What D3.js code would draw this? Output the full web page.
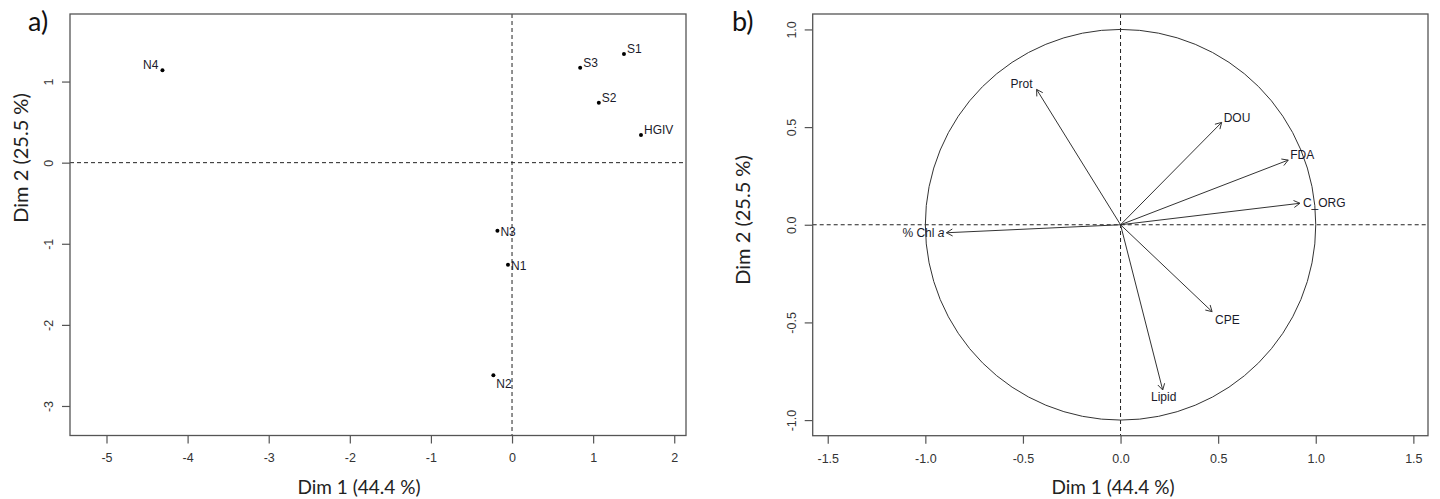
<!DOCTYPE html>
<html><head><meta charset="utf-8">
<script src="https://cdn.jsdelivr.net/npm/d3@7"></script>
<style>
html,body{margin:0;padding:0;background:#fff;}
svg{display:block;}
</style>
</head><body>
<svg id="chart" width="1440" height="499"></svg>
<script>
// ---- Data ----
const indNames = ["N4", "S1", "S3", "S2", "HGIV", "N3", "N1", "N2"];
const indDim1 = [-4.31, 1.38, 0.84, 1.07, 1.59, -0.18, -0.05, -0.23];
const indDim2 = [1.14, 1.34, 1.17, 0.74, 0.34, -0.84, -1.26, -2.62];
const indLabelSide = ["nw", "ne", "ne", "ne", "ne", "e", "e", "se"];

const varNames = ["Prot", "DOU", "FDA", "C_ORG", "% Chl a", "CPE", "Lipid"];
const varDim1 = [-0.43, 0.518, 0.859, 0.919, -0.892, 0.469, 0.216];
const varDim2 = [0.693, 0.524, 0.331, 0.11, -0.041, -0.445, -0.846];
const varLabelSide = ["nw", "ne", "ne", "e", "w", "se", "s"];

const aTicksX = [-5, -4, -3, -2, -1, 0, 1, 2];
const aTicksY = [-3, -2, -1, 0, 1];
const bTicksX = [-1.5, -1.0, -0.5, 0.0, 0.5, 1.0, 1.5];
const bTicksY = [-1.0, -0.5, 0.0, 0.5, 1.0];

const xTitle = "Dim 1 (44.4 %)";
const yTitle = "Dim 2 (25.5 %)";

// ---- Drawing ----
const svg = d3.select("#chart");
const boxColor = "#555";
const titleFont = "Lato, 'Open Sans', sans-serif";
const tickFont = "'Liberation Sans', Arial, sans-serif";
const loc = d3.formatLocale({decimal: ".", thousands: ",", grouping: [3], currency: ["", ""], minus: "-"});

function panel(cfg) {
  const g = svg.append("g");
  const x = d3.scaleLinear().domain(cfg.xDomain).range([cfg.left, cfg.right]);
  const y = d3.scaleLinear().domain(cfg.yDomain).range([cfg.bottom, cfg.top]);

  const xAxis = d3.axisBottom(x).tickValues(cfg.xTicks).tickSize(8).tickPadding(10)
    .tickFormat(cfg.fmt);
  const gx = g.append("g").attr("transform", `translate(0,${cfg.bottom})`).call(xAxis);
  gx.select(".domain").remove();
  gx.selectAll(".tick line").attr("stroke", boxColor).attr("stroke-width", 1.2);
  gx.selectAll(".tick text").attr("font-size", 12.5).attr("fill", "#333")
    .attr("font-family", tickFont).attr("dy", "0.71em");

  const yAxis = d3.axisLeft(y).tickValues(cfg.yTicks).tickSize(8).tickPadding(0)
    .tickFormat(cfg.fmt);
  const gy = g.append("g").attr("transform", `translate(${cfg.left},0)`).call(yAxis);
  gy.select(".domain").remove();
  gy.selectAll(".tick line").attr("stroke", boxColor).attr("stroke-width", 1.2);
  gy.selectAll(".tick text").attr("font-size", 12.5).attr("fill", "#333")
    .attr("font-family", tickFont)
    .attr("x", null).attr("dy", null)
    .attr("text-anchor", "middle")
    .attr("transform", `translate(${cfg.yTickX - cfg.left},0) rotate(-90)`)
    .attr("y", 0).attr("dy", "0.35em");

  g.append("line").attr("x1", cfg.left).attr("x2", cfg.right)
    .attr("y1", y(0)).attr("y2", y(0))
    .attr("stroke", "#222").attr("stroke-width", 1).attr("stroke-dasharray", "4,3");
  g.append("line").attr("x1", x(0)).attr("x2", x(0))
    .attr("y1", cfg.top).attr("y2", cfg.bottom)
    .attr("stroke", "#222").attr("stroke-width", 1).attr("stroke-dasharray", "4,3");

  g.append("rect").attr("x", cfg.left).attr("y", cfg.top)
    .attr("width", cfg.right - cfg.left).attr("height", cfg.bottom - cfg.top)
    .attr("fill", "none").attr("stroke", boxColor).attr("stroke-width", 1.3);

  g.append("text").attr("x", cfg.xTitleX).attr("y", 487).attr("dy", "0.35em")
    .attr("text-anchor", "middle").attr("font-family", titleFont)
    .attr("font-size", 19).attr("fill", "#222").text(xTitle);
  g.append("text").attr("transform", `translate(${cfg.yTitleX},${cfg.yTitleY}) rotate(-90)`)
    .attr("dy", "0.35em").attr("text-anchor", "middle").attr("font-family", titleFont)
    .attr("font-size", 20).attr("fill", "#222").text(yTitle);
  g.append("text").attr("x", cfg.tagX).attr("y", 22).attr("dy", "0.35em")
    .attr("font-family", titleFont).attr("font-size", 27).attr("fill", "#111").text(cfg.tag);

  return {g, x, y};
}

// Panel a
const pa = panel({
  xDomain: [-5.45, 2.145], yDomain: [-3.364, 1.833],
  left: 70, right: 686, top: 14, bottom: 435.5,
  xTicks: aTicksX, yTicks: aTicksY, fmt: loc.format("d"),
  yTickX: 49, xTitleX: 359, yTitleX: 21, yTitleY: 158, tagX: 28, tag: "a)"
});

const offA = {
  nw: [-4, -5, "end"], ne: [3, -5, "start"], e: [3, 1, "start"], se: [3, 9, "start"]
};
indNames.forEach((n, i) => {
  const cx = pa.x(indDim1[i]), cy = pa.y(indDim2[i]);
  pa.g.append("circle").attr("cx", cx).attr("cy", cy).attr("r", 2).attr("fill", "#000");
  const o = offA[indLabelSide[i]];
  pa.g.append("text").attr("x", cx + o[0]).attr("y", cy + o[1]).attr("dy", "0.35em")
    .attr("text-anchor", o[2]).attr("font-family", tickFont).attr("font-size", 12)
    .attr("fill", "#1a1a2a").text(n);
});

// Panel b
const pb = panel({
  xDomain: [-1.577, 1.575], yDomain: [-1.08, 1.079],
  left: 812.7, right: 1428, top: 14, bottom: 435.7,
  xTicks: bTicksX, yTicks: bTicksY, fmt: loc.format(".1f"),
  yTickX: 791.5, xTitleX: 1113, yTitleX: 743, yTitleY: 220, tagX: 732, tag: "b)"
});

const cx0 = pb.x(0), cy0 = pb.y(0);
pb.g.append("ellipse").attr("cx", cx0).attr("cy", cy0)
  .attr("rx", pb.x(1) - pb.x(0)).attr("ry", pb.y(0) - pb.y(1))
  .attr("fill", "none").attr("stroke", "#333").attr("stroke-width", 1);

const offB = {
  nw: [-15, -6, "middle"], ne: [2, -5, "start"], e: [3, 0, "start"],
  w: [-2, 0, "end"], se: [3, 8, "start"], s: [1, 7, "middle"]
};
varNames.forEach((n, i) => {
  const tx = pb.x(varDim1[i]), ty = pb.y(varDim2[i]);
  pb.g.append("line").attr("x1", cx0).attr("y1", cy0).attr("x2", tx).attr("y2", ty)
    .attr("stroke", "#333").attr("stroke-width", 1);
  const ang = Math.atan2(ty - cy0, tx - cx0);
  const L = 7, a = Math.PI / 6;
  [ang + Math.PI - a, ang + Math.PI + a].forEach(t => {
    pb.g.append("line").attr("x1", tx).attr("y1", ty)
      .attr("x2", tx + L * Math.cos(t)).attr("y2", ty + L * Math.sin(t))
      .attr("stroke", "#333").attr("stroke-width", 1);
  });
  const o = offB[varLabelSide[i]];
  const t = pb.g.append("text").attr("x", tx + o[0]).attr("y", ty + o[1]).attr("dy", "0.35em")
    .attr("text-anchor", o[2]).attr("font-family", tickFont).attr("font-size", 12)
    .attr("fill", "#1a1a2a");
  if (n.endsWith(" a")) {
    t.append("tspan").text(n.slice(0, -1));
    t.append("tspan").attr("font-style", "italic").text("a");
  } else {
    t.text(n);
  }
});
</script>
</body></html>
